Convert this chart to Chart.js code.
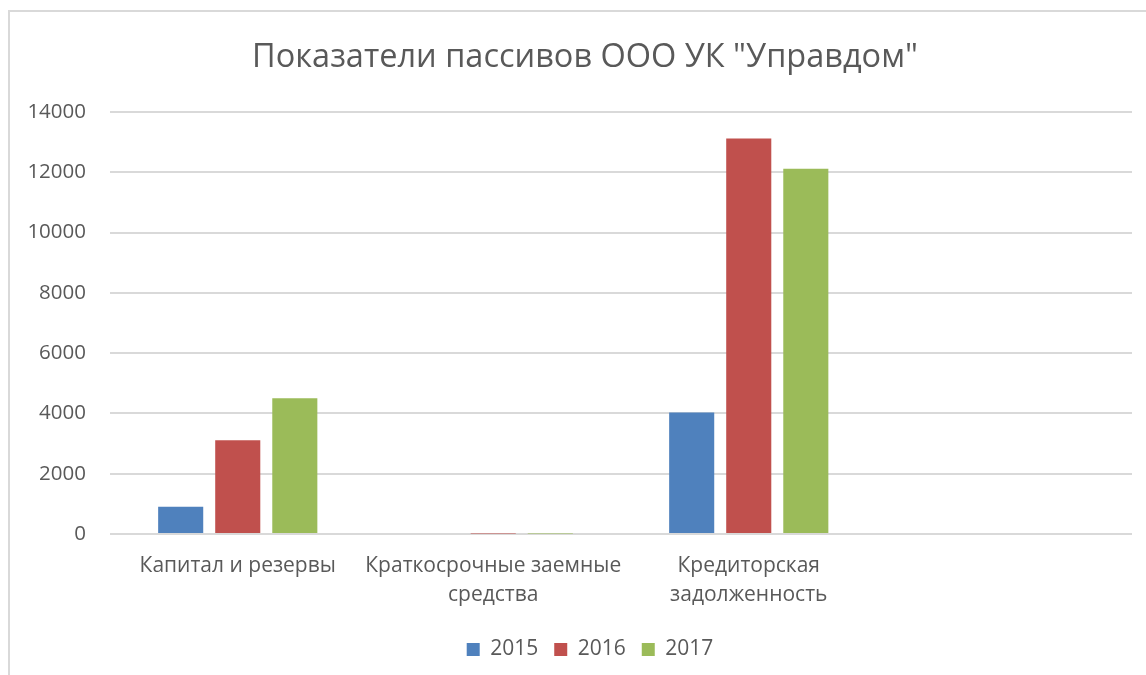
<!DOCTYPE html>
<html>
<head>
<meta charset="utf-8">
<script src="https://cdn.jsdelivr.net/npm/chart.js@4/dist/chart.umd.min.js"></script>
<style>
html,body{margin:0;padding:0;background:#fff;width:1146px;height:675px;overflow:hidden;}
#frame{position:absolute;left:8px;top:10px;width:1200px;height:800px;border-top:2px solid #d9d9d9;border-left:2px solid #d9d9d9;box-sizing:border-box;}
#wrap{position:absolute;left:0;top:0;width:1146px;height:675px;}
</style>
</head>
<body>
<div id="frame"></div>
<div id="wrap"><canvas id="c" width="1146" height="675"></canvas></div>
<script>
const titleText = 'Показатели пассивов ООО УК "Управдом"';
const categories = [
  'Капитал и резервы',
  ['Краткосрочные заемные', 'средства'],
  ['Кредиторская', 'задолженность'],
  ''
];
const seriesNames = ['2015', '2016', '2017'];
const values2015 = [900, 0, 4030, null];
const values2016 = [3110, 20, 13120, null];
const values2017 = [4500, 15, 12120, null];
const yTicks = [0, 2000, 4000, 6000, 8000, 10000, 12000, 14000];
const colors = ['#4f81bd', '#c0504d', '#9bbb59'];

const textColor = '#595959';
const fontFamily = '"Open Sans", "DejaVu Sans", sans-serif';

const titlePlugin = {
  id: 'customTitle',
  afterDraw(chart) {
    const ctx = chart.ctx;
    ctx.save();
    ctx.fillStyle = textColor;
    ctx.font = 'normal 32.5px ' + fontFamily;
    ctx.textAlign = 'center';
    ctx.textBaseline = 'middle';
    ctx.fillText(titleText, 585, 58);
    ctx.restore();
  }
};

const legendShift = {
  id: 'legendShift',
  afterLayout(chart) {
    if (chart.legend) {
      chart.legend.left += 24;
      chart.legend.right += 24;
    }
  }
};

new Chart(document.getElementById('c'), {
  type: 'bar',
  data: {
    labels: categories,
    datasets: [values2015, values2016, values2017].map((v, i) => ({
      label: seriesNames[i],
      data: v,
      backgroundColor: colors[i],
      borderWidth: 0,
      categoryPercentage: 0.67,
      barPercentage: 0.79
    }))
  },
  plugins: [titlePlugin, legendShift],
  options: {
    responsive: false,
    animation: false,
    devicePixelRatio: 1,
    layout: { padding: { left: 0, right: 14, top: 112, bottom: 5 } },
    plugins: {
      title: { display: false },
      legend: {
        display: true,
        position: 'bottom',
        labels: {
          color: textColor,
          font: { family: fontFamily, size: 21 },
          boxWidth: 13,
          boxHeight: 13,
          padding: 16
        }
      },
      tooltip: { enabled: false }
    },
    scales: {
      x: {
        grid: { display: false, drawTicks: false },
        border: { display: false },
        ticks: {
          color: textColor,
          font: { family: fontFamily, size: 21, lineHeight: 1.35 },
          padding: 18,
          maxRotation: 0,
          autoSkip: false
        },
        afterFit: (s) => { s.height = 89; }
      },
      y: {
        min: 0,
        max: 14000,
        afterBuildTicks: (s) => { s.ticks = yTicks.map(v => ({ value: v })); },
        grid: { color: '#d9d9d9', lineWidth: 2, drawTicks: false },
        border: { display: false },
        ticks: {
          color: textColor,
          font: { family: fontFamily, size: 20.5 },
          padding: 24,
          callback: (v) => String(v)
        },
        afterFit: (s) => { s.width = 110; }
      }
    }
  }
});
</script>
</body>
</html>
